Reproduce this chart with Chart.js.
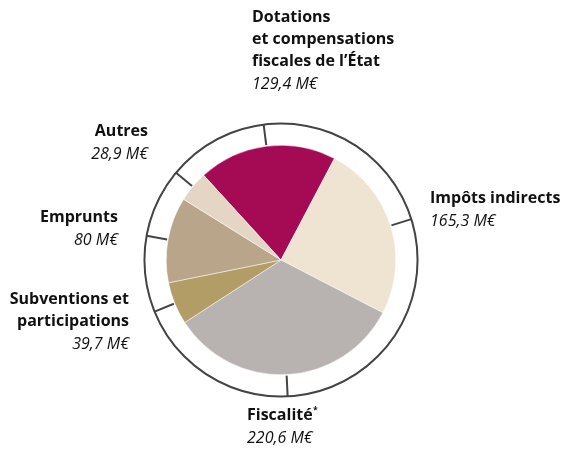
<!DOCTYPE html>
<html>
<head>
<meta charset="utf-8">
<script src="https://cdn.jsdelivr.net/npm/chart.js@4/dist/chart.umd.min.js"></script>
<style>
    html, body { margin: 0; padding: 0; background: #fff; }
    #wrap { width: 566px; height: 449px; }
</style>
</head>
<body>
<div id="wrap"><canvas id="recettesChart"></canvas></div>
<script>
// Data (M€)
var categories = ['Dotations et compensations fiscales de l\u2019\u00c9tat', 'Imp\u00f4ts indirects', 'Fiscalit\u00e9*', 'Subventions et participations', 'Emprunts', 'Autres'];
var amounts = [129.4, 165.3, 220.6, 39.7, 80, 28.9];
var amountLabels = ['129,4 M\u20ac', '165,3 M\u20ac', '220,6 M\u20ac', '39,7 M\u20ac', '80 M\u20ac', '28,9 M\u20ac'];

var sliceColors = [
    '#A50A55', // magenta
    '#EFE4D2', // light cream
    '#B8B3B0', // grey
    '#B39D66', // ochre
    '#B8A58A', // taupe
    '#E5D5C4'  // pale beige
];

// Where each label block sits (title lines, then italic amount)
var labelSpots = [
    { lines: ['Dotations', 'et compensations', 'fiscales de l\u2019\u00c9tat'], x: 252, y: 17, align: 'left' },
    { lines: ['Imp\u00f4ts indirects'], x: 430, y: 198, align: 'left' },
    { lines: ['Fiscalit\u00e9'], x: 247, y: 415, align: 'left', star: true },
    { lines: ['Subventions et', 'participations'], x: 129, y: 299, align: 'right' },
    { lines: ['Emprunts'], x: 118, y: 217, align: 'right' },
    { lines: ['Autres'], x: 148, y: 131, align: 'right' }
];

var boldFont = 'bold 16px "Open Sans", sans-serif';

// Outer ring with one pointer tick per slice
var ringPlugin = {
    id: 'ring',
    afterDatasetsDraw: function (chart) {
        var arcs = chart.getDatasetMeta(0).data;
        if (!arcs.length) return;
        var ctx = chart.ctx;
        var cx = arcs[0].x, cy = arcs[0].y, r = arcs[0].outerRadius;
        var ringR = r * 1.19;
        ctx.save();
        ctx.strokeStyle = '#444444';
        ctx.lineWidth = 2;
        ctx.beginPath();
        ctx.arc(cx, cy, ringR, 0, Math.PI * 2);
        ctx.stroke();
        arcs.forEach(function (a) {
            var mid = (a.startAngle + a.endAngle) / 2;
            ctx.beginPath();
            ctx.moveTo(cx + Math.cos(mid) * (r + 1), cy + Math.sin(mid) * (r + 1));
            ctx.lineTo(cx + Math.cos(mid) * ringR, cy + Math.sin(mid) * ringR);
            ctx.stroke();
        });
        ctx.restore();
    }
};

var labelPlugin = {
    id: 'outerLabels',
    afterDraw: function (chart) {
        var ctx = chart.ctx;
        ctx.save();
        ctx.fillStyle = '#111111';
        ctx.textBaseline = 'middle';
        labelSpots.forEach(function (spot, i) {
            ctx.textAlign = spot.align;
            var y = spot.y;
            ctx.font = boldFont;
            spot.lines.forEach(function (line) {
                ctx.fillText(line, spot.x, y);
                if (spot.star) {
                    var w = ctx.measureText(line).width;
                    ctx.font = 'bold 8px "Open Sans", sans-serif';
                    ctx.fillText('*', spot.x + w + 0.5, y - 4);
                    ctx.font = boldFont;
                }
                y += 22;
            });
            ctx.font = 'italic 16px "Open Sans", sans-serif';
            ctx.fillText(amountLabels[i], spot.x, y + 1);
        });
        ctx.restore();
    }
};

var ctx = document.getElementById('recettesChart').getContext('2d');
var recettesChart = new Chart(ctx, {
    type: 'pie',
    data: {
        labels: categories,
        datasets: [{
            data: amounts,
            backgroundColor: sliceColors,
            borderColor: '#ffffff',
            borderWidth: 0.5
        }]
    },
    options: {
        responsive: true,
        maintainAspectRatio: false,
        animation: false,
        rotation: -42.4,
        layout: {
            padding: { top: 145, bottom: 74, left: 166, right: 170 }
        },
        plugins: {
            legend: { display: false },
            tooltip: { enabled: false }
        }
    },
    plugins: [ringPlugin, labelPlugin]
});
</script>
</body>
</html>
